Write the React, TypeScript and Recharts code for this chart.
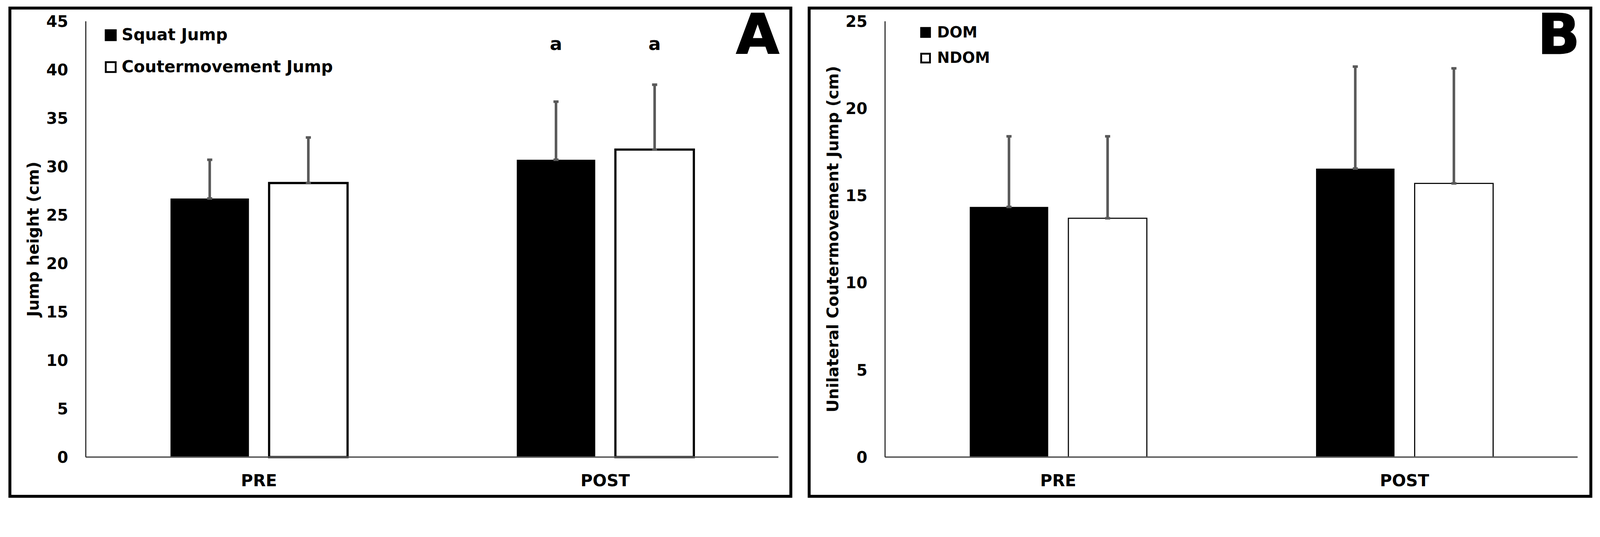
import React from "react";
import { BarChart, Bar, XAxis, YAxis, ErrorBar, LabelList, Legend, Label } from "recharts";

const FONT = "'DejaVu Sans', 'Liberation Sans', Arial, sans-serif";
const PAGE_W = 4364;
const PAGE_H = 1375;

const phases = ["PRE", "POST"];

// Panel A - bilateral jumps
const squatJump = [26.7, 30.7];
const squatJumpSd = [4.0, 6.0];
const cmJump = [28.3, 31.75];
const cmJumpSd = [4.7, 6.7];
const sigA = ["", "a"];
const sigLevelA = 42.7;
const ticksA = [0, 5, 10, 15, 20, 25, 30, 35, 40, 45];

// Panel B - unilateral CMJ
const dom = [14.35, 16.55];
const domSd = [4.05, 5.85];
const ndom = [13.7, 15.7];
const ndomSd = [4.7, 6.6];
const ticksB = [0, 5, 10, 15, 20, 25];

const buildData = (s1: number[], s1Sd: number[], s2: number[], s2Sd: number[], sig?: string[]) =>
	phases.map((p, i) => ({
		phase: p,
		s1: s1[i],
		s1Err: [0, s1Sd[i]],
		s2: s2[i],
		s2Err: [0, s2Sd[i]],
		sig: sig ? sig[i] : "",
	}));

const dataA = buildData(squatJump, squatJumpSd, cmJump, cmJumpSd, sigA);
const dataB = buildData(dom, domSd, ndom, ndomSd);

type PanelProps = {
	data: any[];
	names: string[];
	yLabel: string;
	ticks: number[];
	left: number;
	width: number;
	stroke2: number;
	legendLeft: number;
	legendTop: number;
	legendRow: number;
	legendFont: number;
	legendBox: number;
	legendGap: number;
	sigLevel?: number;
};

const Panel = (p: PanelProps) => {
	const innerW = p.width - 16;
	const innerH = 1340 - 16;
	const sigContent = (vals: number[]) => (props: any) => {
		const { x, y, width, height, index, value } = props;
		if (!value || p.sigLevel === undefined) return null;
		const base = y + height;
		const ly = base - (p.sigLevel * height) / vals[index];
		return (
			<text x={x + width / 2} y={ly} textAnchor="middle" dominantBaseline="central" fontFamily={FONT} fontWeight="bold" fontSize={50} fill="#000">
				{value}
			</text>
		);
	};
	const s1Vals = p.data.map((d) => d.s1);
	const s2Vals = p.data.map((d) => d.s2);
	return (
		<div
			style={{
				position: "absolute",
				left: p.left,
				top: 18,
				width: p.width,
				height: 1340,
				border: "8px solid #000",
				boxSizing: "border-box",
				background: "#fff",
			}}
		>
			<BarChart
				width={innerW}
				height={innerH}
				data={p.data}
				margin={{ top: 32, right: innerW - 2092, left: 0, bottom: 0 }}
				barGap={55}
			>
				<XAxis
					dataKey="phase"
					height={103}
					interval={0}
					axisLine={{ stroke: "#595959", strokeWidth: 4 }}
					tickLine={false}
					tickSize={0}
					tickMargin={48}
					tick={{ fill: "#000", fontSize: 45, fontWeight: "bold", fontFamily: FONT }}
				/>
				<YAxis
					width={203}
					domain={[0, p.ticks[p.ticks.length - 1]]}
					ticks={p.ticks}
					interval={0}
					axisLine={{ stroke: "#262626", strokeWidth: 3 }}
					tickLine={false}
					tickSize={0}
					tickMargin={48}
					tick={{ fill: "#000", fontSize: 43, fontWeight: "bold", fontFamily: FONT }}
				>
					<Label
						content={({ viewBox }: any) => {
							const cx = viewBox.x + 60;
							const cy = viewBox.y + viewBox.height / 2;
							return (
								<text
									x={cx}
									y={cy}
									transform={`rotate(-90 ${cx} ${cy})`}
									textAnchor="middle"
									dominantBaseline="central"
									fontFamily={FONT}
									fontWeight="bold"
									fontSize={43.5}
									fill="#000"
								>
									{p.yLabel}
								</text>
							);
						}}
					/>
				</YAxis>
				<Legend
					layout="vertical"
					align="center"
					verticalAlign="middle"
					wrapperStyle={{ left: p.legendLeft, top: p.legendTop, width: "auto" }}
					content={() => (
						<div style={{ fontFamily: FONT, fontWeight: "bold", fontSize: p.legendFont, color: "#000" }}>
							{p.names.map((n, i) => (
								<div key={n} style={{ display: "flex", alignItems: "center", height: p.legendRow }}>
									<div
										style={{
											width: p.legendBox,
											height: p.legendBox,
											boxSizing: "border-box",
											background: i === 0 ? "#000" : "#fff",
											border: "5px solid #000",
											marginRight: p.legendGap,
										}}
									/>
									<span style={{ lineHeight: 1, whiteSpace: "nowrap" }}>{n}</span>
								</div>
							))}
						</div>
					)}
				/>
				<Bar dataKey="s1" name={p.names[0]} fill="#000" barSize={214} isAnimationActive={false}>
					<ErrorBar dataKey="s1Err" direction="y" width={7} strokeWidth={7} stroke="#595959" />
					<LabelList dataKey="sig" content={sigContent(s1Vals)} />
				</Bar>
				<Bar dataKey="s2" name={p.names[1]} fill="#fff" stroke="#000" strokeWidth={p.stroke2} barSize={214} isAnimationActive={false}>
					<ErrorBar dataKey="s2Err" direction="y" width={7} strokeWidth={7} stroke="#595959" />
					<LabelList dataKey="sig" content={sigContent(s2Vals)} />
				</Bar>
			</BarChart>
		</div>
	);
};

const PanelLetter = ({ letter, right }: { letter: string; right: number }) => (
	<div
		style={{
			position: "absolute",
			top: 19,
			right: PAGE_W - right,
			fontFamily: FONT,
			fontWeight: "bold",
			fontSize: 151,
			lineHeight: 1,
			color: "#000",
			WebkitTextStroke: "3px #000",
		}}
	>
		{letter}
	</div>
);

// fit the fixed-size figure into whatever CSS viewport the page really has
const fitScale = () => {
	if (typeof document === "undefined") return 1;
	document.documentElement.style.overflow = "hidden";
	const w = document.documentElement.clientWidth || window.innerWidth;
	const h = document.documentElement.clientHeight || window.innerHeight;
	return Math.min(1, w / PAGE_W, h / PAGE_H);
};

export default function App() {
	const s = fitScale();
	return (
		<div
			style={{
				position: "absolute",
				left: 0,
				top: 0,
				width: PAGE_W,
				height: PAGE_H,
				background: "#fff",
				overflow: "hidden",
				transform: `scale(${s})`,
				transformOrigin: "0 0",
			}}
		>
			<Panel
				data={dataA}
				names={["Squat Jump", "Coutermovement Jump"]}
				yLabel="Jump height (cm)"
				ticks={ticksA}
				left={23}
				width={2138}
				stroke2={6}
				legendLeft={255}
				legendTop={26}
				legendRow={87}
				legendFont={44.5}
				legendBox={32}
				legendGap={14}
				sigLevel={sigLevelA}
			/>
			<Panel
				data={dataB}
				names={["DOM", "NDOM"]}
				yLabel="Unilateral Coutermovement Jump (cm)"
				ticks={ticksB}
				left={2203}
				width={2140}
				stroke2={3}
				legendLeft={299}
				legendTop={27}
				legendRow={70}
				legendFont={41}
				legendBox={29}
				legendGap={17}
			/>
			<PanelLetter letter="A" right={2125} />
			<PanelLetter letter="B" right={4309} />
		</div>
	);
}
